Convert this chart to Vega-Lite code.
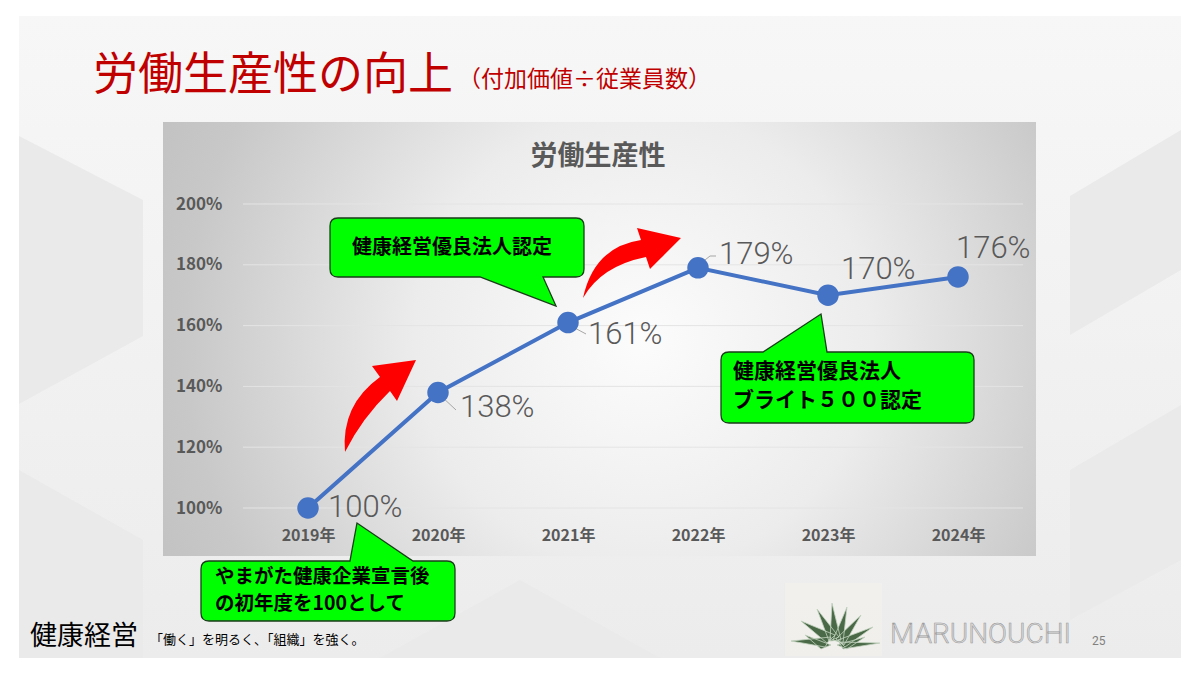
{
  "$schema": "https://vega.github.io/schema/vega-lite/v6.json",
  "autosize": {"type": "none"},
  "width": 780,
  "height": 304,
  "padding": {"left": 243, "top": 204, "right": 177, "bottom": 167},
  "background": "#ffffff",
  "config": {"view": {"stroke": null}, "font": "Noto Sans CJK JP"},
  "resolve": {"axis": {"x": "independent", "y": "independent"}},
  "data": {
    "values": [
      {"year": 2019, "value": 100, "label": "100%"},
      {"year": 2020, "value": 138, "label": "138%"},
      {"year": 2021, "value": 161, "label": "161%"},
      {"year": 2022, "value": 179, "label": "179%"},
      {"year": 2023, "value": 170, "label": "170%"},
      {"year": 2024, "value": 176, "label": "176%"}
    ]
  },
  "layer": [
    {
      "data": {"values": [{}]},
      "mark": {"type": "rect", "fill": {"gradient": "linear", "x1": 0, "y1": 0, "x2": 0, "y2": 1, "stops": [{"offset": 0, "color": "#f7f7f7"}, {"offset": 1, "color": "#ececec"}]}},
      "encoding": {
        "x": {"datum": 2016.7769, "type": "quantitative", "axis": null},
        "x2": {"datum": 2025.7154},
        "y": {"datum": 261.84, "type": "quantitative", "axis": null},
        "y2": {"datum": 50.66}
      }
    },
    {
      "data": {"values": [{}]},
      "mark": {"type": "point", "filled": true, "opacity": 1, "size": 4, "fill": "#eaeaea", "strokeWidth": 0,
        "shape": "M-581,-201 L-457,-137 L-457,-1 L-581,67 Z M-581,133 L-457,203 L-457,321 L-581,321 Z M581,-207 L470,-141 L470,-2 L581,-67 Z M470,133 L581,68 L581,223 L470,283 Z M-220,321 L-80,243 L60,321 Z"},
      "encoding": {
        "x": {"datum": 2021.2462, "type": "quantitative", "axis": null},
        "y": {"datum": 156.25, "type": "quantitative", "axis": null}
      }
    },
    {
      "data": {"values": [{}]},
      "mark": {"type": "rect", "fill": "#f4f1ec", "opacity": 0.7},
      "encoding": {
        "x": {"datum": 2022.6692, "type": "quantitative", "axis": null},
        "x2": {"datum": 2023.4154},
        "y": {"datum": 75.33, "type": "quantitative", "axis": null},
        "y2": {"datum": 51.32}
      }
    },
    {
      "data": {"values": [{}]},
      "mark": {"type": "point", "filled": true, "opacity": 1, "size": 4, "fill": "#4a6a47", "stroke": "#c3d3bf", "strokeWidth": 0.8,
        "shape": "M-10,2 L-44,-4 L-4,-8 Z M-8,-2 L-34,-24 L0,-10 Z M-6,-4 L-18,-36 L4,-8 Z M-5,-4 L-3,-42 L6,-5 Z M-2,-5 L12,-38 L8,-2 Z M1,-6 L26,-30 L9,0 Z M3,-5 L38,-18 L10,2 Z M4,-3 L45,-2 L8,4 Z M-14,4 L-30,-10 L-4,0 Z M2,0 L30,-8 L12,4 Z"},
      "encoding": {
        "x": {"datum": 2023.0538, "type": "quantitative", "axis": null},
        "y": {"datum": 54.93, "type": "quantitative", "axis": null}
      }
    },
    {
      "data": {"values": [{}]},
      "mark": {"type": "text", "text": "健康経営", "align": "left", "baseline": "middle", "fontSize": 27, "color": "#000000"},
      "encoding": {
        "x": {"datum": 2016.8615, "type": "quantitative", "axis": null},
        "y": {"datum": 57.57, "type": "quantitative", "axis": null}
      }
    },
    {
      "data": {"values": [{}]},
      "mark": {"type": "text", "text": "「働く」を明るく、「組織」を強く。", "align": "left", "baseline": "middle", "fontSize": 13, "color": "#000000"},
      "encoding": {
        "x": {"datum": 2017.7846, "type": "quantitative", "axis": null},
        "y": {"datum": 56.58, "type": "quantitative", "axis": null}
      }
    },
    {
      "data": {"values": [{}]},
      "mark": {"type": "text", "text": "MARUNOUCHI", "align": "left", "baseline": "middle", "fontSize": 28, "font": "Roboto", "fontWeight": 300, "fill": "#dedede", "stroke": "#9a9a9a", "strokeWidth": 0.6},
      "encoding": {
        "x": {"datum": 2023.4769, "type": "quantitative", "axis": null},
        "y": {"datum": 58.22, "type": "quantitative", "axis": null}
      }
    },
    {
      "data": {"values": [{}]},
      "mark": {"type": "text", "text": "25", "align": "left", "baseline": "middle", "fontSize": 12, "font": "Roboto", "color": "#808080"},
      "encoding": {
        "x": {"datum": 2025.0308, "type": "quantitative", "axis": null},
        "y": {"datum": 56.25, "type": "quantitative", "axis": null}
      }
    },
    {
      "data": {"values": [{}]},
      "mark": {"type": "text", "text": "労働生産性の向上", "align": "left", "baseline": "middle", "fontSize": 45, "color": "#c00000"},
      "encoding": {
        "x": {"datum": 2017.3462, "type": "quantitative", "axis": null},
        "y": {"datum": 242.11, "type": "quantitative", "axis": null}
      }
    },
    {
      "data": {"values": [{}]},
      "mark": {"type": "text", "text": "（付加価値÷従業員数）", "align": "left", "baseline": "middle", "fontSize": 23, "color": "#c00000"},
      "encoding": {
        "x": {"datum": 2020.1538, "type": "quantitative", "axis": null},
        "y": {"datum": 240.79, "type": "quantitative", "axis": null}
      }
    },
    {
      "data": {"values": [{}]},
      "mark": {"type": "rect", "fill": {"gradient": "radial", "x1": 0.55, "y1": 0.5, "r1": 0, "x2": 0.55, "y2": 0.5, "r2": 0.75, "stops": [{"offset": 0, "color": "#fcfcfc"}, {"offset": 0.35, "color": "#ececec"}, {"offset": 0.7, "color": "#c8c8c8"}, {"offset": 1, "color": "#b8b8b8"}]}},
      "encoding": {
        "x": {"datum": 2017.8846, "type": "quantitative", "axis": null},
        "x2": {"datum": 2024.6},
        "y": {"datum": 226.97, "type": "quantitative", "axis": null},
        "y2": {"datum": 84.21}
      }
    },
    {
      "data": {"values": [{}]},
      "mark": {"type": "text", "text": "労働生産性", "align": "center", "baseline": "middle", "fontSize": 27, "fontWeight": "bold", "color": "#595959"},
      "encoding": {
        "x": {"datum": 2021.2308, "type": "quantitative", "axis": null},
        "y": {"datum": 215.46, "type": "quantitative", "axis": null}
      }
    },
    {
      "data": {"values": [{"g": 100}, {"g": 120}, {"g": 140}, {"g": 160}, {"g": 180}, {"g": 200}]},
      "mark": {"type": "rule", "color": "#e4e4e4", "strokeWidth": 1},
      "encoding": {
        "x": {"datum": 2018.5, "type": "quantitative", "axis": null},
        "x2": {"datum": 2024.5},
        "y": {"field": "g", "type": "quantitative", "scale": {"domain": [100, 200], "nice": false, "zero": false}, "axis": null}
      }
    },
    {
      "mark": {"type": "line", "color": "#4472c4", "strokeWidth": 4},
      "encoding": {
        "x": {"field": "year", "type": "quantitative", "scale": {"domain": [2018.5, 2024.5], "nice": false, "zero": false},
          "axis": {"title": null, "values": [2019, 2020, 2021, 2022, 2023, 2024], "labelExpr": "datum.value + '年'", "grid": false, "domain": false, "ticks": false, "labelPadding": 27, "labelBaseline": "middle", "labelFontSize": 16, "labelFontWeight": "bold", "labelColor": "#595959", "labelFlush": false, "labelOverlap": false, "zindex": 1}},
        "y": {"field": "value", "type": "quantitative", "scale": {"domain": [100, 200], "nice": false, "zero": false},
          "axis": {"title": null, "values": [100, 120, 140, 160, 180, 200], "labelExpr": "datum.value + '%'", "grid": false, "domain": false, "ticks": false, "labelPadding": 21, "labelFontSize": 17, "labelFontWeight": "bold", "labelColor": "#595959", "labelFlush": false, "labelOverlap": false, "zindex": 1}}
      }
    },
    {
      "data": {"values": [{}]},
      "mark": {"type": "rule", "color": "#a6a6a6", "strokeWidth": 1},
      "encoding": {
        "x": {"datum": 2020.0231, "type": "quantitative", "axis": null},
        "x2": {"datum": 2020.1385},
        "y": {"datum": 136.84, "type": "quantitative", "axis": null},
        "y2": {"datum": 132.24}
      }
    },
    {
      "data": {"values": [{}]},
      "mark": {"type": "rule", "color": "#a6a6a6", "strokeWidth": 1},
      "encoding": {
        "x": {"datum": 2021.0231, "type": "quantitative", "axis": null},
        "x2": {"datum": 2021.1385},
        "y": {"datum": 159.87, "type": "quantitative", "axis": null},
        "y2": {"datum": 157.24}
      }
    },
    {
      "data": {"values": [{}]},
      "mark": {"type": "rule", "color": "#a6a6a6", "strokeWidth": 1},
      "encoding": {
        "x": {"datum": 2022.0154, "type": "quantitative", "axis": null},
        "x2": {"datum": 2022.0923},
        "y": {"datum": 180.26, "type": "quantitative", "axis": null},
        "y2": {"datum": 182.89}
      }
    },
    {
      "data": {"values": [{}]},
      "mark": {"type": "rule", "color": "#a6a6a6", "strokeWidth": 1},
      "encoding": {
        "x": {"datum": 2022.0923, "type": "quantitative", "axis": null},
        "x2": {"datum": 2022.1385},
        "y": {"datum": 182.89, "type": "quantitative", "axis": null},
        "y2": {"datum": 182.89}
      }
    },
    {
      "mark": {"type": "circle", "size": 460, "color": "#4472c4", "opacity": 1},
      "encoding": {
        "x": {"field": "year", "type": "quantitative", "axis": null},
        "y": {"field": "value", "type": "quantitative", "axis": null}
      }
    },
    {
      "transform": [{"filter": "datum.year == 2019"}],
      "mark": {"type": "text", "align": "left", "baseline": "middle", "fontSize": 31, "font": "Roboto", "fontWeight": 300, "color": "#595959", "dx": 20, "dy": 0},
      "encoding": {"x": {"field": "year", "type": "quantitative", "axis": null}, "y": {"field": "value", "type": "quantitative", "axis": null}, "text": {"field": "label"}}
    },
    {
      "transform": [{"filter": "datum.year == 2020"}],
      "mark": {"type": "text", "align": "left", "baseline": "middle", "fontSize": 31, "font": "Roboto", "fontWeight": 300, "color": "#595959", "dx": 22, "dy": 16},
      "encoding": {"x": {"field": "year", "type": "quantitative", "axis": null}, "y": {"field": "value", "type": "quantitative", "axis": null}, "text": {"field": "label"}}
    },
    {
      "transform": [{"filter": "datum.year == 2021"}],
      "mark": {"type": "text", "align": "left", "baseline": "middle", "fontSize": 31, "font": "Roboto", "fontWeight": 300, "color": "#595959", "dx": 20, "dy": 12},
      "encoding": {"x": {"field": "year", "type": "quantitative", "axis": null}, "y": {"field": "value", "type": "quantitative", "axis": null}, "text": {"field": "label"}}
    },
    {
      "transform": [{"filter": "datum.year == 2022"}],
      "mark": {"type": "text", "align": "left", "baseline": "middle", "fontSize": 31, "font": "Roboto", "fontWeight": 300, "color": "#595959", "dx": 21, "dy": -13},
      "encoding": {"x": {"field": "year", "type": "quantitative", "axis": null}, "y": {"field": "value", "type": "quantitative", "axis": null}, "text": {"field": "label"}}
    },
    {
      "transform": [{"filter": "datum.year == 2023"}],
      "mark": {"type": "text", "align": "left", "baseline": "middle", "fontSize": 31, "font": "Roboto", "fontWeight": 300, "color": "#595959", "dx": 13, "dy": -25},
      "encoding": {"x": {"field": "year", "type": "quantitative", "axis": null}, "y": {"field": "value", "type": "quantitative", "axis": null}, "text": {"field": "label"}}
    },
    {
      "transform": [{"filter": "datum.year == 2024"}],
      "mark": {"type": "text", "align": "left", "baseline": "middle", "fontSize": 31, "font": "Roboto", "fontWeight": 300, "color": "#595959", "dx": -2, "dy": -28},
      "encoding": {"x": {"field": "year", "type": "quantitative", "axis": null}, "y": {"field": "value", "type": "quantitative", "axis": null}, "text": {"field": "label"}}
    },
    {
      "data": {"values": [{}]},
      "mark": {"type": "point", "filled": true, "opacity": 1, "size": 4, "fill": "#ff0000", "strokeWidth": 0,
        "shape": "M-35,47 Q-39,0 0,-28 L-8,-39 L36,-45 L17,-4 L10,-14 Q-18,13 -35,47 Z"},
      "encoding": {
        "x": {"datum": 2019.5538, "type": "quantitative", "axis": null},
        "y": {"datum": 133.88, "type": "quantitative", "axis": null}
      }
    },
    {
      "data": {"values": [{}]},
      "mark": {"type": "point", "filled": true, "opacity": 1, "size": 4, "fill": "#ff0000", "strokeWidth": 0,
        "shape": "M-49,35 Q-38,-16 9,-23 L5,-35 L49,-25 L18,6 L14,-6 Q-31,3 -49,35 Z"},
      "encoding": {
        "x": {"datum": 2021.4923, "type": "quantitative", "axis": null},
        "y": {"datum": 180.59, "type": "quantitative", "axis": null}
      }
    },
    {
      "data": {"values": [{}]},
      "mark": {"type": "point", "filled": true, "opacity": 1, "size": 4, "fill": "#00ff00", "stroke": "#1a3d1a", "strokeWidth": 1.3,
        "shape": "M-119,-29.5 L119,-29.5 Q127,-29.5 127,-21.5 L127,21.5 Q127,29.5 119,29.5 L86,29.5 L99,58.5 L23,29.5 L-119,29.5 Q-127,29.5 -127,21.5 L-127,-21.5 Q-127,-29.5 -119,-29.5 Z"},
      "encoding": {
        "x": {"datum": 2020.1462, "type": "quantitative", "axis": null},
        "y": {"datum": 185.69, "type": "quantitative", "axis": null}
      }
    },
    {
      "data": {"values": [{}]},
      "mark": {"type": "text", "text": "健康経営優良法人認定", "align": "center", "baseline": "middle", "fontSize": 20, "fontWeight": "bold", "color": "#000000"},
      "encoding": {
        "x": {"datum": 2020.1077, "type": "quantitative", "axis": null},
        "y": {"datum": 185.53, "type": "quantitative", "axis": null}
      }
    },
    {
      "data": {"values": [{}]},
      "mark": {"type": "point", "filled": true, "opacity": 1, "size": 4, "fill": "#00ff00", "stroke": "#1a3d1a", "strokeWidth": 1.3,
        "shape": "M-118.5,-35.5 L-84.5,-35.5 L-26.5,-73.5 L-20.5,-35.5 L118.5,-35.5 Q126.5,-35.5 126.5,-27.5 L126.5,27.5 Q126.5,35.5 118.5,35.5 L-118.5,35.5 Q-126.5,35.5 -126.5,27.5 L-126.5,-27.5 Q-126.5,-35.5 -118.5,-35.5 Z"},
      "encoding": {
        "x": {"datum": 2023.15, "type": "quantitative", "axis": null},
        "y": {"datum": 139.64, "type": "quantitative", "axis": null}
      }
    },
    {
      "data": {"values": [{}]},
      "mark": {"type": "text", "text": "健康経営優良法人", "align": "left", "baseline": "middle", "fontSize": 21, "fontWeight": "bold", "color": "#000000"},
      "encoding": {
        "x": {"datum": 2022.2692, "type": "quantitative", "axis": null},
        "y": {"datum": 144.74, "type": "quantitative", "axis": null}
      }
    },
    {
      "data": {"values": [{}]},
      "mark": {"type": "text", "text": "ブライト５００認定", "align": "left", "baseline": "middle", "fontSize": 21, "fontWeight": "bold", "color": "#000000"},
      "encoding": {
        "x": {"datum": 2022.2692, "type": "quantitative", "axis": null},
        "y": {"datum": 135.2, "type": "quantitative", "axis": null}
      }
    },
    {
      "data": {"values": [{}]},
      "mark": {"type": "point", "filled": true, "opacity": 1, "size": 4, "fill": "#00ff00", "stroke": "#1a3d1a", "strokeWidth": 1.3,
        "shape": "M-119,-30 L22,-30 L29,-68 L85,-30 L119,-30 Q127,-30 127,-22 L127,22 Q127,30 119,30 L-119,30 Q-127,30 -127,22 L-127,-22 Q-127,-30 -119,-30 Z"},
      "encoding": {
        "x": {"datum": 2019.1538, "type": "quantitative", "axis": null},
        "y": {"datum": 72.70, "type": "quantitative", "axis": null}
      }
    },
    {
      "data": {"values": [{}]},
      "mark": {"type": "text", "text": "やまがた健康企業宣言後", "align": "left", "baseline": "middle", "fontSize": 19.5, "fontWeight": "bold", "color": "#000000"},
      "encoding": {
        "x": {"datum": 2018.2846, "type": "quantitative", "axis": null},
        "y": {"datum": 77.3, "type": "quantitative", "axis": null}
      }
    },
    {
      "data": {"values": [{}]},
      "mark": {"type": "text", "text": "の初年度を100として", "align": "left", "baseline": "middle", "fontSize": 19.5, "fontWeight": "bold", "color": "#000000"},
      "encoding": {
        "x": {"datum": 2018.2846, "type": "quantitative", "axis": null},
        "y": {"datum": 68.42, "type": "quantitative", "axis": null}
      }
    }
  ]
}
